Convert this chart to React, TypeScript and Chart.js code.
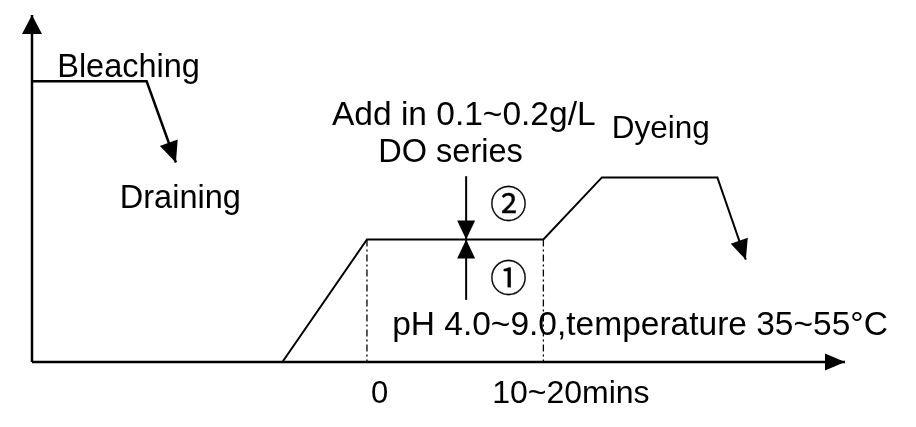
import React, { useEffect, useRef } from "react";
import { Chart, registerables } from "chart.js";

Chart.register(...registerables);

// ---- data (diagram units: x = process time, y = level) ----
const axisX = [0, 100];
const axisYTop = 100;
const bleachX = [0, 14.1, 17.7];
const bleachY = [80.9, 80.9, 57.5];
const processX = [30.8, 41.2, 62.9, 70.1, 84.3, 87.8];
const processY = [0, 35.3, 35.3, 53.2, 53.2, 29.5];
const markerX = [41.2, 62.9];
const holdLevel = 35.3;
const doseX = 53.4;
const doseDownFrom = 53.5;
const doseUpFrom = 17.9;

const labelTexts = [
  "Bleaching",
  "Draining",
  "Add in 0.1~0.2g/L",
  "DO series",
  "Dyeing",
  "pH 4.0~9.0,temperature 35~55°C",
  "0",
  "10~20mins",
];
const stepTexts = ["②", "①"];

// ---- layout (positions in diagram units, sizes in px) ----
const labelLayout = [
  { x: 3.1, y: 82.1, size: 32.5 },
  { x: 10.8, y: 44.4, size: 32.5 },
  { x: 36.9, y: 68.3, size: 33.5 },
  { x: 42.6, y: 57.6, size: 32.5 },
  { x: 71.3, y: 64.6, size: 31.5 },
  { x: 44.3, y: 7.8, size: 33.5 },
  { x: 41.7, y: -11.8, size: 31 },
  { x: 56.6, y: -11.8, size: 32 },
];
const stepLayout = [
  { x: 58.6, y: 45.6 },
  { x: 58.6, y: 24.3 },
];

const pts = (xs: number[], ys: number[]) => xs.map((x, i) => ({ x, y: ys[i] }));

const arrowPlugin = {
  id: "arrowsAndText",
  afterDatasetsDraw(chart: any) {
    const ctx = chart.ctx;
    const xs = chart.scales.x;
    const ys = chart.scales.y;
    chart.data.datasets.forEach((ds: any, i: number) => {
      if (!ds.arrow) return;
      const meta = chart.getDatasetMeta(i);
      const n = meta.data.length;
      if (n < 2) return;
      const a = meta.data[n - 2];
      const b = meta.data[n - 1];
      const ang = Math.atan2(b.y - a.y, b.x - a.x);
      const len = ds.arrowLen || 20;
      const half = (ds.arrowWidth || 18) / 2;
      ctx.save();
      ctx.fillStyle = "#000";
      ctx.translate(b.x, b.y);
      ctx.rotate(ang);
      ctx.beginPath();
      ctx.moveTo(0, 0);
      ctx.lineTo(-len, -half);
      ctx.lineTo(-len, half);
      ctx.closePath();
      ctx.fill();
      ctx.restore();
    });
    ctx.save();
    ctx.fillStyle = "#000";
    ctx.textAlign = "left";
    ctx.textBaseline = "alphabetic";
    labelTexts.forEach((t, i) => {
      const l = labelLayout[i];
      ctx.font = `${l.size}px "Liberation Sans", Arial, sans-serif`;
      ctx.fillText(t, xs.getPixelForValue(l.x), ys.getPixelForValue(l.y));
    });
    ctx.textAlign = "center";
    ctx.textBaseline = "middle";
    ctx.strokeStyle = "#000";
    ctx.lineWidth = 0.3;
    stepTexts.forEach((t, i) => {
      const l = stepLayout[i];
      ctx.font = `37px "Noto Sans CJK SC", "DejaVu Sans", sans-serif`;
      const px = xs.getPixelForValue(l.x);
      const py = ys.getPixelForValue(l.y);
      ctx.fillText(t, px, py);
      ctx.strokeText(t, px, py);
    });
    ctx.restore();
  },
};

export default function App() {
  const ref = useRef<HTMLCanvasElement | null>(null);
  useEffect(() => {
    document.body.style.margin = "0";
    document.body.style.background = "#fff";
    if (!ref.current) return;
    const base = { showLine: true, pointRadius: 0, borderColor: "#000", fill: false, clip: false, tension: 0 };
    const chart = new Chart(ref.current, {
      type: "scatter",
      data: {
        datasets: [
          { ...base, data: [{ x: axisX[0], y: 0 }, { x: axisX[0], y: axisYTop }], borderWidth: 2.5, arrow: true, arrowLen: 19, arrowWidth: 20 } as any,
          { ...base, data: axisX.map((x) => ({ x, y: 0 })), borderWidth: 2.5, arrow: true, arrowLen: 20, arrowWidth: 17 } as any,
          { ...base, data: pts(bleachX, bleachY), borderWidth: 2.5, arrow: true, arrowLen: 21, arrowWidth: 19 } as any,
          { ...base, data: pts(processX, processY), borderWidth: 2, arrow: true, arrowLen: 20, arrowWidth: 18 } as any,
          ...markerX.map((x) => ({ ...base, data: [{ x, y: holdLevel }, { x, y: 0 }], borderWidth: 1.3, borderDash: [7, 3, 2, 3] } as any)),
          { ...base, data: [{ x: doseX, y: doseDownFrom }, { x: doseX, y: holdLevel }], borderWidth: 2, arrow: true, arrowLen: 19, arrowWidth: 18 } as any,
          { ...base, data: [{ x: doseX, y: doseUpFrom }, { x: doseX, y: holdLevel }], borderWidth: 2, arrow: true, arrowLen: 19, arrowWidth: 18 } as any,
        ],
      },
      options: {
        animation: false,
        responsive: false,
        events: [],
        layout: { padding: { left: 32, right: 71, top: 15, bottom: 65 } },
        scales: {
          x: { type: "linear", min: 0, max: 100, display: false },
          y: { type: "linear", min: 0, max: 100, display: false },
        },
        plugins: { legend: { display: false }, tooltip: { enabled: false } },
      },
      plugins: [arrowPlugin],
    });
    return () => chart.destroy();
  }, []);
  return (
    <div style={{ width: 916, height: 427, background: "#fff" }}>
      <canvas ref={ref} width={916} height={427} />
    </div>
  );
}
